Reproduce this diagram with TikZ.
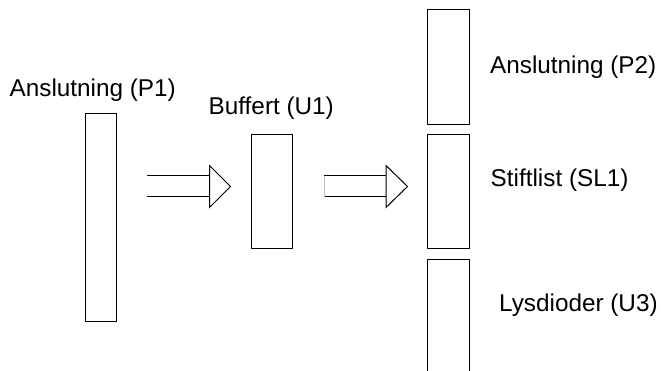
\documentclass[tikz,border=0pt]{standalone}
\usepackage{fontspec}
\setmainfont{Liberation Sans}
\begin{document}
\begin{tikzpicture}[x=1pt,y=-1pt,
  blockbox/.style={draw=black,line width=1pt,fill=white},
  lbl/.style={anchor=base west,inner sep=0pt,font=\fontsize{24.3}{28}\selectfont},
  shaft/.style={draw=black,line width=1pt},
  head/.style={draw=black,line width=1pt,fill=white,line join=miter}]
\useasboundingbox (0,0) rectangle (661,371);
\clip (0,0) rectangle (661,371);
% boxes
\draw[blockbox] (85,114) rectangle (116,321);
\draw[blockbox] (251,135) rectangle (292,249);
\draw[blockbox] (427.5,10) rectangle (469.5,124.5);
\draw[blockbox] (427.5,134.5) rectangle (469.5,248.5);
\draw[blockbox] (427.5,260) rectangle (469.5,390);
% labels
\node[lbl] (lp1) at (9.5,97) {Anslutning (P1)};
\node[lbl] (lu1) at (208.5,115) {Buffert (U1)};
\node[lbl] (lp2) at (490,74) {Anslutning (P2)};
\node[lbl] (lsl) at (490.5,187) {Stiftlist (SL1)};
\node[lbl] (lu3) at (499,311) {Lysdioder (U3)};
% arrow 1
\coordinate (a1st) at (147,176);
\coordinate (a1sb) at (147,197);
\coordinate (a1bt) at (209.5,165.5);
\coordinate (a1bb) at (209.5,207.5);
\coordinate (a1t) at (230.5,186.5);
\draw[shaft] (a1st) -- (a1st -| a1bt);
\draw[shaft] (a1sb) -- (a1sb -| a1bt);
\draw[head] (a1bt) -- (a1t) -- (a1bb) -- cycle;
% arrow 2
\coordinate (a2st) at (324,176);
\coordinate (a2sb) at (324,197);
\coordinate (a2bt) at (386,165.5);
\coordinate (a2bb) at (386,207.5);
\coordinate (a2t) at (407.5,186.5);
\draw[shaft] (a2st) -- (a2st -| a2bt);
\draw[shaft] (a2sb) -- (a2sb -| a2bt);
\draw[black!25,line width=0.5pt] (a2st) -- (a2sb);
\draw[head] (a2bt) -- (a2t) -- (a2bb) -- cycle;
\end{tikzpicture}
\end{document}
